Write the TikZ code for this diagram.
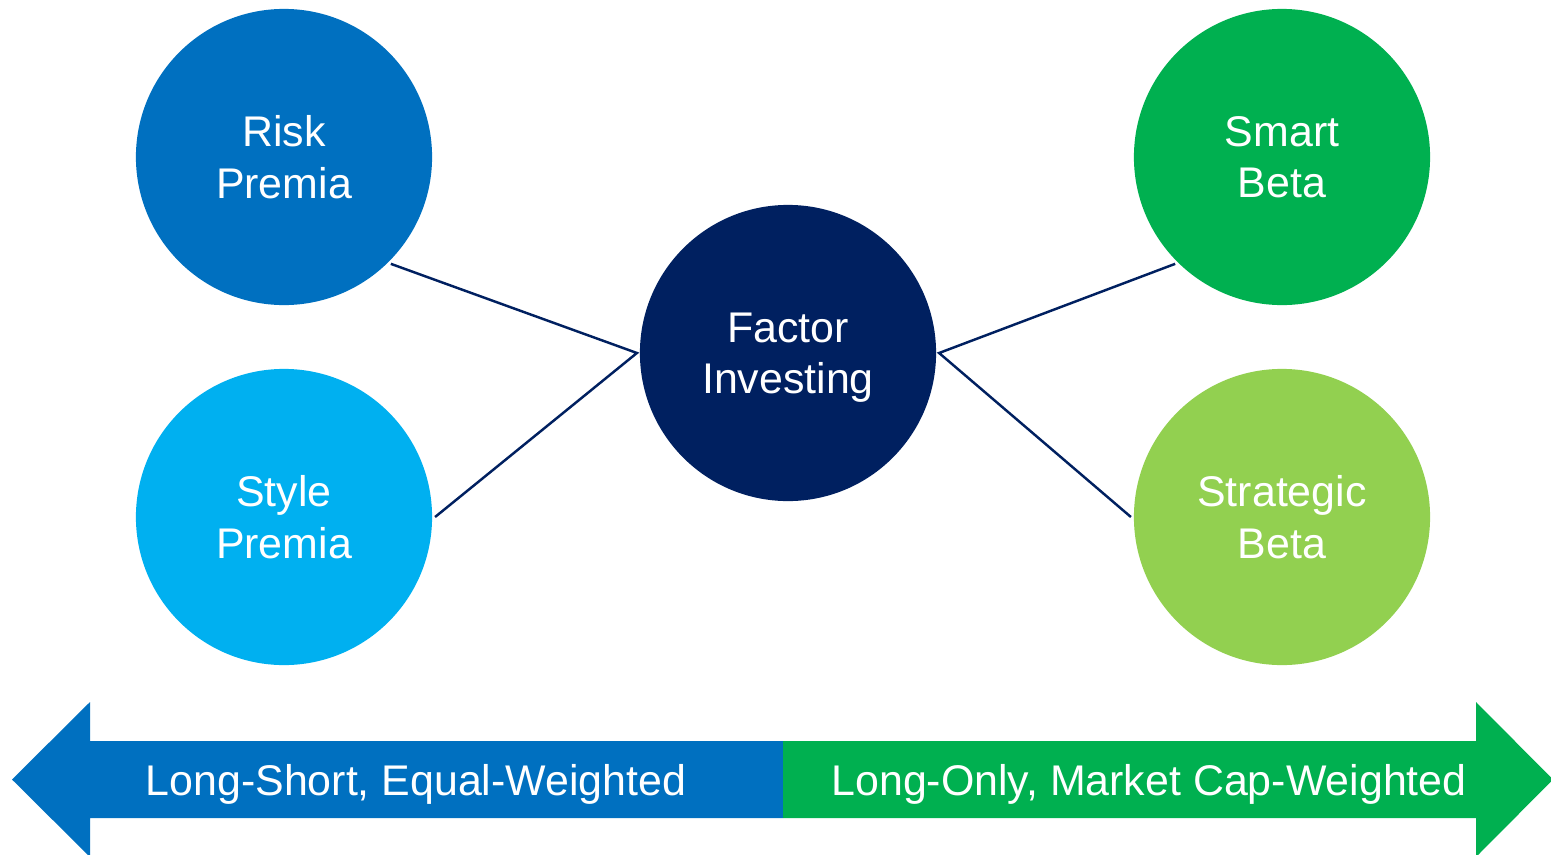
\documentclass[tikz,border=0pt]{standalone}
\usepackage{fontspec}
\setmainfont{Liberation Sans}
\usepackage{xcolor}
\definecolor{riskblue}{HTML}{0070C0}
\definecolor{styleblue}{HTML}{00B0F0}
\definecolor{factornavy}{HTML}{002060}
\definecolor{smartgreen}{HTML}{00B050}
\definecolor{strategicgreen}{HTML}{92D050}
\usepackage{tikz}

\begin{document}
\begin{tikzpicture}[x=0.01cm, y=-0.01cm,
  bubble/.style={circle, minimum size=2.96cm, inner sep=0pt, outer sep=0.03cm,
    text=white, align=center, text depth=0pt, font=\fontsize{12.2}{14.6}\selectfont},
  link/.style={factornavy, line width=0.7pt},
  barlabel/.style={text=white, text depth=0pt, font=\fontsize{12.2}{14.6}\selectfont}]
\useasboundingbox (0,0) rectangle (1551,854);

\node[bubble, fill=riskblue] (risk) at (284,157) {Risk\\Premia};
\node[bubble, fill=styleblue] (style) at (284,517) {Style\\Premia};
\node[bubble, fill=factornavy] (factor) at (788,353) {Factor\\Investing};
\node[bubble, fill=smartgreen] (smart) at (1282,157) {Smart\\Beta};
\node[bubble, fill=strategicgreen] (strategic) at (1282,517) {Strategic\\Beta};

\draw[link] (risk.-45)--(factor.west)--(style.east);
\draw[link] (smart.-135)--(factor.east)--(strategic.west);

%\draw[<->] (12,779)--(1551,779);
\fill[riskblue] (783,741)--(90,741)--(90,702)--(12,779.5)--(90,857)--(90,818)--(783,818)--cycle;
\fill[smartgreen] (783,741)--(1476,741)--(1476,702)--(1553,779.5)--(1476,857)--(1476,818)--(783,818)--cycle;

\node[barlabel] (shortlbl) at (416,780) {Long-Short, Equal-Weighted};
\node[barlabel] (longlbl) at (1149,780) {Long-Only, Market Cap-Weighted};
\end{tikzpicture}
\end{document}
